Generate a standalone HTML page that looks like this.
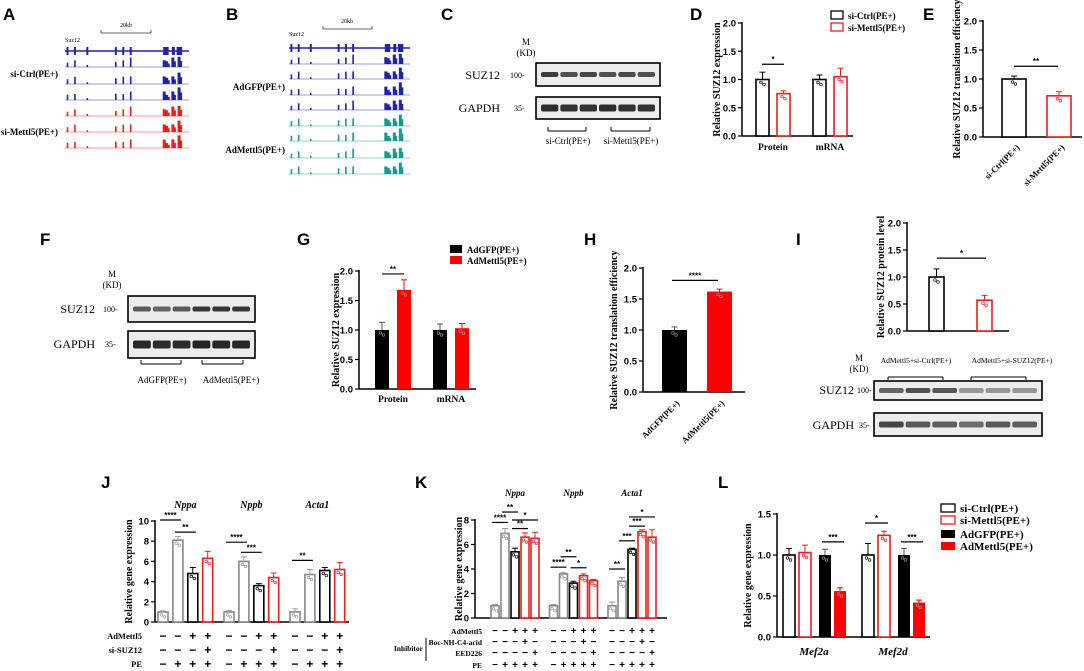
<!DOCTYPE html>
<html><head><meta charset="utf-8"><style>
html,body{margin:0;padding:0;background:#fff;}
svg{display:block;font-family:"Liberation Sans",sans-serif;}
.ser{font-family:"Liberation Serif",serif;}
</style></head><body>
<svg id="fig" width="1084" height="671" viewBox="0 0 1084 671" xmlns="http://www.w3.org/2000/svg"></svg>
<script>
// ---------- data ----------
var dCats=["Protein","mRNA"];
var dCtrl=[1.0,1.0], dCtrlErr=[0.13,0.08];
var dKd=[0.75,1.05], dKdErr=[0.05,0.15];
var eVals=[1.0,0.71], eErr=[0.05,0.07];
var gCats=["Protein","mRNA"];
var gGfp=[1.0,1.0], gGfpErr=[0.13,0.10];
var gOe=[1.68,1.03], gOeErr=[0.17,0.08];
var hVals=[1.0,1.62], hErr=[0.05,0.04];
var iVals=[1.0,0.57], iErr=[0.15,0.09];
var jGenes=["Nppa","Nppb","Acta1"];
var jVals=[[1.0,8.1,4.8,6.3],[1.0,6.0,3.6,4.4],[1.0,4.7,5.1,5.2]];
var jErr=[[0.1,0.35,0.6,0.7],[0.15,0.45,0.2,0.45],[0.3,0.5,0.3,0.7]];
var kGenes=["Nppa","Nppb","Acta1"];
var kVals=[[1.0,6.9,5.4,6.6,6.5],[1.0,3.6,2.85,3.45,3.05],[1.0,3.0,5.6,7.05,6.6]];
var kErr=[[0.1,0.4,0.3,0.35,0.5],[0.1,0.1,0.15,0.15,0.1],[0.3,0.3,0.1,0.15,0.6]];
var lGenes=["Mef2a","Mef2d"];
var lVals=[[1.0,1.03,1.0,0.56],[1.0,1.24,1.0,0.42]];
var lErr=[[0.08,0.09,0.07,0.04],[0.14,0.05,0.08,0.03]];
var yTicks2=["0.0","0.5","1.0","1.5","2.0"];
var exonPos=[0.02,0.08,0.18,0.41,0.47,0.53,0.80,0.82,0.87,0.92];
var peakA=[5,7,2,6,7,9,8,6,9,12];

// ---------- helpers ----------
var NS="http://www.w3.org/2000/svg", svg=document.getElementById('fig');
function mk(tag,at,parent){var e=document.createElementNS(NS,tag);for(var k in at)e.setAttribute(k,at[k]);(parent||svg).appendChild(e);return e;}
function txt(s,x,y,o,parent){o=o||{};var e=mk('text',{x:x,y:y,'font-size':o.fs||10,'font-weight':o.fw||'bold','text-anchor':o.a||'start',fill:o.fill||'#000'},parent);
 if(o.cls)e.setAttribute('class',o.cls); if(o.it)e.setAttribute('font-style','italic'); if(o.rot!=null)e.setAttribute('transform','rotate('+o.rot+' '+x+' '+y+')'); e.textContent=s;return e;}
function line(x1,y1,x2,y2,c,w,parent){return mk('line',{x1:x1,y1:y1,x2:x2,y2:y2,stroke:c||'#000','stroke-width':w||1},parent);}

// panel letters
[["A",3,20],["B",226,20],["C",441,20],["D",690,20],["E",923,20],["F",40,245],["G",297,245],["H",584,245],["I",796,245],["J",101,488],["K",415,488],["L",718,488]].forEach(function(p){
 var t=txt(p[0],p[1],p[2],{fs:17});
 
 
});

function axis(g,ax,xEnd,y0,yTop,ticks,title,titleX){
 line(ax,y0,xEnd,y0,'#000',1.5,g); line(ax,yTop-1,ax,y0,'#000',1.5,g);
 var n=ticks.length-1;
 ticks.forEach(function(t,i){var y=y0-(y0-yTop)*i/n; line(ax-4,y,ax,y,'#000',1.2,g); txt(t,ax-6,y+3.5,{fs:9.5,a:'end'},g);});
 var ty=(y0+yTop)/2; var tt=txt(title,titleX,ty,{fs:10,a:'middle',rot:-90,cls:'ser'},g);
 
 
}
function bar(g,x,w,y0,yv,col,filled,err,yErr,name){
 var r=mk('rect',{x:x,y:yv,width:w,height:y0-yv,fill:filled?col:'#fff',stroke:col,'stroke-width':filled?0:1.6},g);
 
 
 var cx=x+w/2, ec=(col=='#000'&&filled)?'#555':(col=='#888'?'#999':col);
 line(cx,yv,cx,yErr,ec,1,g); line(cx-3,yErr,cx+3,yErr,ec,1,g);
 mk('circle',{cx:cx-1.5,cy:yv+3,r:1.3,fill:'none',stroke:filled?'#999':ec,'stroke-width':0.7},g);
 mk('circle',{cx:cx+1.5,cy:yv+5,r:1.3,fill:'none',stroke:filled?'#999':ec,'stroke-width':0.7},g);
}
function sig(g,x1,x2,y,s){line(x1,y,x2,y,'#000',1.2,g);txt(s,(x1+x2)/2,y-2,{fs:8,a:'middle'},g);}

// ---------- genome tracks ----------
function tracks(name,x0,x1,gy,base,cols,lbls){
 var g=mk('g',{});  
 var W=x1-x0;
 line(x0,gy,x1,gy,'#2323a8',1.5,g);
 exonPos.forEach(function(f,i){var x=x0+f*W; mk('rect',{x:x-1,y:gy-4,width:(i>=6?3:2),height:8,fill:'#2323a8'},g);});
 mk('rect',{x:x0+0.9*W,y:gy-4,width:0.045*W,height:8,fill:'#2323a8'},g);
 base.forEach(function(b,t){var c=cols[t]; line(x0,b,x1,b,c,0.8,g).setAttribute('opacity','0.6');
  exonPos.forEach(function(f,i){var x=x0+f*W, h=peakA[i]*(0.85+0.1*((t*7+i)%3)), w=i>=6?3:1.6;
   mk('rect',{x:x-w/2,y:b-h,width:w,height:h,fill:c},g);
   if(i>=7){mk('rect',{x:x+1,y:b-h*0.6,width:2,height:h*0.6,fill:c},g);}
  });
 });
 lbls.forEach(function(l){txt(l[0],l[1],l[2],{fs:9,a:'end',cls:'ser'},g);});
 return g;
}
var gA=tracks('panel-a-tracks',65,189,51,[67,84,100,116,132,148],['#2323a8','#2323a8','#2323a8','#e82020','#e82020','#e82020'],[["si-Ctrl(PE+)",58,77],["si-Mettl5(PE+)",58,135]]);
txt("Suz12",65,42,{fs:6,fw:'normal',cls:'ser'},gA); line(101,33,151,33,'#333',0.8,gA);line(101,30,101,33,'#333',0.8,gA);line(151,30,151,33,'#333',0.8,gA);txt("20kb",126,27,{fs:6,fw:'normal',a:'middle',cls:'ser'},gA);
var gB=tracks('panel-b-tracks',289,410,48,[64,79,95,110,126,141,158,174],['#2323a8','#2323a8','#2323a8','#2323a8','#1a9a8c','#1a9a8c','#1a9a8c','#1a9a8c'],[["AdGFP(PE+)",285,90],["AdMettl5(PE+)",285,153]]);
txt("Suz12",289,36,{fs:6,fw:'normal',cls:'ser'},gB); line(323,29,372,29,'#333',0.8,gB);line(323,26,323,29,'#333',0.8,gB);line(372,26,372,29,'#333',0.8,gB);txt("20kb",347,23,{fs:6,fw:'normal',a:'middle',cls:'ser'},gB);

// ---------- blots ----------
function blot(name,x,y,w,h,intens,thick){
 var g=mk('g',{});  
 mk('rect',{x:x,y:y,width:w,height:h,fill:'#ececec',stroke:'#000','stroke-width':1.6},g);
 var n=intens.length, lw=(w-8)/n;
 intens.forEach(function(v,i){mk('rect',{x:x+5+i*lw,y:y+h/2-thick/2,width:lw-2,height:thick,rx:2,fill:'rgb('+v+','+v+','+v+')'},g);});
 return g;
}
function wbLabels(mx,my,lx,rows){txt("M",mx,my,{fs:9,fw:'normal',a:'middle',cls:'ser'});txt("(KD)",mx,my+11,{fs:9,fw:'normal',a:'middle',cls:'ser'});
 rows.forEach(function(r){txt(r[0],lx,r[1]+4,{fs:12,fw:'normal',a:'end',cls:'ser'});txt(r[2],r[3],r[1]+3,{fs:8,fw:'normal',cls:'ser'});});}
blot('blot-c-suz12',536,63,124,23,[60,80,70,80,75,80],5);
blot('blot-c-gapdh',536,97,124,22,[45,50,50,45,50,50],7);
wbLabels(526,45,500,[["SUZ12",75,"100-",510],["GAPDH",108,"35-",514]]);
[[548,586],[611,650]].forEach(function(b){line(b[0],131,b[1],131,'#000',1);line(b[0],127,b[0],131);line(b[1],127,b[1],131);});
txt("si-Ctrl(PE+)",568,144,{fs:9,fw:'normal',a:'middle',cls:'ser'});txt("si-Mettl5(PE+)",631,144,{fs:9,fw:'normal',a:'middle',cls:'ser'});
blot('blot-f-suz12',128,296,127,26,[90,100,90,55,55,55],5);
blot('blot-f-gapdh',128,331,127,27,[40,45,45,35,40,40],8);
wbLabels(112,277,95,[["SUZ12",309,"100-",103],["GAPDH",344,"35-",105]]);
[[141,181],[202,243]].forEach(function(b){line(b[0],364,b[1],364);line(b[0],360,b[0],364);line(b[1],360,b[1],364);});
txt("AdGFP(PE+)",162,383,{fs:9,fw:'normal',a:'middle',cls:'ser'});txt("AdMettl5(PE+)",231,383,{fs:9,fw:'normal',a:'middle',cls:'ser'});
blot('blot-i-suz12',874,381,168,19,[100,80,85,150,150,150],5);
blot('blot-i-gapdh',874,413,168,23,[70,90,95,110,90,95],6);
wbLabels(859,361,854,[["SUZ12",390,"100-",857],["GAPDH",425,"35-",859]]);
txt("AdMettl5+si-Ctrl(PE+)",916,363,{fs:7.5,fw:'normal',a:'middle',cls:'ser'});txt("AdMettl5+si-SUZ12(PE+)",1012,363,{fs:7.5,fw:'normal',a:'middle',cls:'ser'});
[[888,943],[971,1026]].forEach(function(b){line(b[0],377,b[1],377);line(b[0],377,b[0],380);line(b[1],377,b[1],380);});

function legend(name,x,entries){var g=mk('g',{});
 entries.forEach(function(e){mk('rect',{x:x,y:e[1]-5,width:e[4]||12,height:e[5]||8,fill:e[3]?e[2]:'#fff',stroke:e[2],'stroke-width':e[3]?0:1.3},g);txt(e[0],x+(e[4]||12)+5,e[1]+3,{fs:e[6]||9,cls:'ser'},g);});}

(function(){var g=mk('g',{});
 var ax=742,y0=136,yT=23,max=2,sy=function(v){return y0-(y0-yT)*v/max;};
 axis(g,ax,853,y0,yT,yTicks2,"Relative SUZ12 expression",720);
 dCats.forEach(function(c,i){var gx=756+i*57;
  bar(g,gx,13,y0,sy(dCtrl[i]),'#000',false,0,sy(dCtrl[i]+dCtrlErr[i]),'bar-ctrl-'+c);
  bar(g,gx+21,13,y0,sy(dKd[i]),'#e82020',false,0,sy(dKd[i]+dKdErr[i]),'bar-kd-'+c);
  txt(c,gx+17,150,{fs:9.5,a:'middle',cls:'ser'},g);});
 sig(g,762,784,sy(1.27),"*");
 legend('legend-d',831,[["si-Ctrl(PE+)",16,'#000',false],["si-Mettl5(PE+)",28,'#e82020',false]]);
})();
(function(){var g=mk('g',{});
 var ax=983,y0=137,yT=21,max=2,sy=function(v){return y0-(y0-yT)*v/max;};
 axis(g,ax,1082,y0,yT,yTicks2,"Relative SUZ12 translation efficiency",960);
 var cols=['#000','#e82020'], names=["si-Ctrl(PE+)","si-Mettl5(PE+)"];
 eVals.forEach(function(v,i){var x=1002+i*45;bar(g,x,24,y0,sy(v),cols[i],false,0,sy(v+eErr[i]),'bar-'+names[i]);
  txt(names[i],x+18,148,{fs:8.5,a:'end',rot:-45,cls:'ser'},g);});
 sig(g,1014,1058,sy(1.22),"**");
})();
(function(){var g=mk('g',{});
 var ax=359,y0=389,yT=271,max=2,sy=function(v){return y0-(y0-yT)*v/max;};
 axis(g,ax,476,y0,yT,yTicks2,"Relative SUZ12 expression",339);
 gCats.forEach(function(c,i){var gx=375+i*58;
  bar(g,gx,14,y0,sy(gGfp[i]),'#000',true,0,sy(gGfp[i]+gGfpErr[i]),'bar-gfp-'+c);
  bar(g,gx+22,14,y0,sy(gOe[i]),'#ff0000',true,0,sy(gOe[i]+gOeErr[i]),'bar-oe-'+c);
  txt(c,gx+18,402,{fs:9.5,a:'middle',cls:'ser'},g);});
 sig(g,382,404,sy(1.95),"**");
 legend('legend-g',450,[["AdGFP(PE+)",250,'#000',true],["AdMettl5(PE+)",261,'#ff0000',true]]);
})();
(function(){var g=mk('g',{});
 var ax=643,y0=392,yT=268,max=2,sy=function(v){return y0-(y0-yT)*v/max;};
 axis(g,ax,745,y0,yT,yTicks2,"Relative SUZ12 translation efficiency",617);
 var cols=['#000','#ff0000'], names=["AdGFP(PE+)","AdMettl5(PE+)"];
 hVals.forEach(function(v,i){var x=662+i*45;bar(g,x,25,y0,sy(v),cols[i],true,0,sy(v+hErr[i]),'bar-'+names[i]);
  txt(names[i],x+18,404,{fs:8.5,a:'end',rot:-45,cls:'ser'},g);});
 sig(g,672,718,sy(1.8),"****");
})();
(function(){var g=mk('g',{});
 var ax=907,y0=331,yT=223,max=2,sy=function(v){return y0-(y0-yT)*v/max;};
 axis(g,ax,1009,y0,yT,yTicks2,"Relative SUZ12 protein level",884);
 var cols=['#000','#e82020'];
 iVals.forEach(function(v,i){var x=929+i*48;bar(g,x,15,y0,sy(v),cols[i],false,0,sy(v+iErr[i]),'bar-i-'+i);});
 sig(g,937,986,sy(1.35),"*");
})();
(function(){var g=mk('g',{});
 var ax=155,y0=622,yT=521,max=10,sy=function(v){return y0-(y0-yT)*v/max;};
 axis(g,ax,349,y0,yT,["0","2","4","6","8","10"],"Relative gene expression",132);
 var cols=['#888','#888','#000','#e82020'];
 var sigs=[[[0,1,10.1,"****"],[1,2,8.9,"**"]],[[0,1,7.9,"****"],[1,2,6.9,"***"]],[[0,1,6.1,"**"]]];
 jGenes.forEach(function(gn,k){var gx=158+k*66, bx=function(i){return gx+i*14.9;};
  jVals[k].forEach(function(v,i){bar(g,bx(i),10,y0,sy(v),cols[i],false,0,sy(v+jErr[k][i]),'bar-'+gn+'-'+i);});
  txt(gn,bx(1.5)+5,508,{fs:10,a:'middle',it:true,cls:'ser'},g);
  sigs[k].forEach(function(s){sig(g,bx(s[0])+2,bx(s[1])+8,sy(s[2]),s[3]);});
  var rows=[["-","-","+","+"],["-","-","-","+"],["-","+","+","+"]];
  rows.forEach(function(r,ri){r.forEach(function(s,i){txt(s=="-"?"−":"+",bx(i)+5,[640,654,668][ri],{fs:12,a:'middle'},g);});});
 });
 txt("AdMettl5",142,639,{fs:8.5,a:'end',cls:'ser'},g);txt("si-SUZ12",142,653,{fs:8.5,a:'end',cls:'ser'},g);txt("PE",142,667,{fs:8.5,a:'end',cls:'ser'},g);
})();
(function(){var g=mk('g',{});
 var ax=475,y0=618,yT=520,max=8,sy=function(v){return y0-(y0-yT)*v/max;};
 axis(g,ax,667,y0,yT,["0","2","4","6","8"],"Relative gene expression",462);
 var cols=['#888','#888','#000','#e82020','#e82020'];
 var sigs=[[[0,1,7.8,"****"],[1,2,8.65,"**"],[2,3,7.3,"**"],[2,4,8.0,"*"]],[[0,1,4.15,"****"],[1,2,5.0,"**"],[2,3,4.1,"*"]],[[0,1,4.0,"**"],[1,2,6.3,"***"],[2,3,7.5,"***"],[2,4,8.25,"*"]]];
 var rows=[["-","-","+","+","+"],["-","-","-","+","-"],["-","-","-","-","+"],["-","+","+","+","+"]];
 kGenes.forEach(function(gn,k){var gx=491+k*58.5, bx=function(i){return gx+i*10;};
  kVals[k].forEach(function(v,i){bar(g,bx(i),8,y0,sy(v),cols[i],false,0,sy(v+kErr[k][i]),'bar-'+gn+'-'+i);});
  txt(gn,bx(2)+4,496,{fs:9,a:'middle',it:true,cls:'ser'},g);
  sigs[k].forEach(function(s){sig(g,bx(s[0])+1,bx(s[1])+7,sy(s[2]),s[3]);});
  rows.forEach(function(r,ri){r.forEach(function(s,i){txt(s=="-"?"−":"+",bx(i)+4,[634,645,656,668][ri],{fs:10,a:'middle'},g);});});
 });
 txt("AdMettl5",482,634,{fs:7.5,a:'end',cls:'ser'},g);txt("Boc-NH-C4-acid",482,645,{fs:7.5,a:'end',cls:'ser'},g);txt("EED226",482,656,{fs:7.5,a:'end',cls:'ser'},g);txt("PE",482,668,{fs:7.5,a:'end',cls:'ser'},g);
 txt("Inhibitor",423,651,{fs:7.5,a:'end',cls:'ser'},g);line(426,638,426,661,'#000',1,g);
})();
(function(){var g=mk('g',{});
 var ax=777,y0=637,yT=514,max=1.5,sy=function(v){return y0-(y0-yT)*v/max;};
 axis(g,ax,930,y0,yT,["0.0","0.5","1.0","1.5"],"Relative gene expression",751);
 var cols=['#000','#e82020','#000','#ff0000'], fills=[false,false,true,true], offs=[0,16,36,51];
 var sigs=[[[2,3,1.16,"***"]],[[0,1,1.39,"*"],[2,3,1.16,"***"]]];
 lGenes.forEach(function(gn,k){var gx=783+k*79, bx=function(i){return gx+offs[i];};
  lVals[k].forEach(function(v,i){bar(g,bx(i),12,y0,sy(v),cols[i],fills[i],0,sy(v+lErr[k][i]),'bar-'+gn+'-'+i);});
  txt(gn,gx+31,655,{fs:11,a:'middle',it:true,cls:'ser'},g);
  sigs[k].forEach(function(s){sig(g,bx(s[0])+3,bx(s[1])+10,sy(s[2]),s[3]);});
 });
 legend('legend-l',941,[["si-Ctrl(PE+)",509,'#000',false,14,8,11],["si-Mettl5(PE+)",521,'#e82020',false,14,8,11],["AdGFP(PE+)",535,'#000',true,14,8,11],["AdMettl5(PE+)",547,'#ff0000',true,14,8,11]]);
})();
</script>
</body></html>
